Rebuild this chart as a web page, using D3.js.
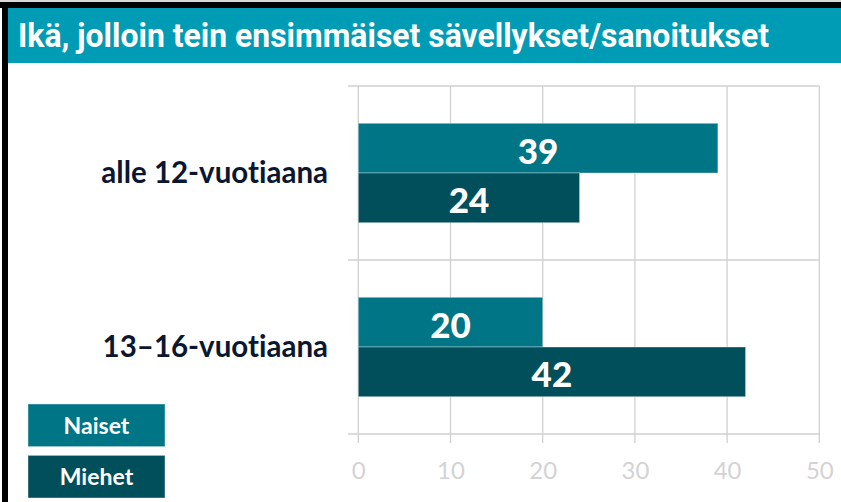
<!DOCTYPE html>
<html>
<head>
<meta charset="utf-8">
<script src="https://cdn.jsdelivr.net/npm/d3@7"></script>
<style>
  html, body { margin: 0; padding: 0; background: #fff; }
  svg { display: block; }
  text { font-variant-ligatures: none; font-feature-settings: "liga" 0; }
</style>
</head>
<body>
<script>
// ---- data ----
const title = "Ikä, jolloin tein ensimmäiset sävellykset/sanoitukset";
const categories = ["alle 12-vuotiaana", "13\u201316-vuotiaana"];
const seriesNames = ["Naiset", "Miehet"];
const naiset = [39, 20];
const miehet = [24, 42];
const xTicks = [0, 10, 20, 30, 40, 50];

const seriesValues = [naiset, miehet];
const colors = ["#007585", "#024f5c"];

const W = 841, H = 502;
const svg = d3.select("body").append("svg").attr("width", W).attr("height", H);

// frame
svg.append("rect").attr("x", 0).attr("y", 0).attr("width", W).attr("height", 2).attr("fill", "#d9d9d9");
svg.append("rect").attr("x", 0).attr("y", 2).attr("width", W).attr("height", 6).attr("fill", "#000");
svg.append("rect").attr("x", 2).attr("y", 2).attr("width", 6).attr("height", H).attr("fill", "#000");
svg.append("rect").attr("x", 8).attr("y", 8).attr("width", W - 8).attr("height", 55).attr("fill", "#009cb5");

const font = "Lato, 'Open Sans', sans-serif";

svg.append("text")
  .attr("x", 18).attr("y", 47)
  .attr("fill", "#fff")
  .attr("font-family", "Roboto, sans-serif")
  .attr("font-weight", 700)
  .attr("font-size", 34)
  .attr("textLength", 751)
  .attr("lengthAdjust", "spacingAndGlyphs")
  .text(title);

// scales
const x = d3.scaleLinear().domain([0, 50]).range([358.3, 819.3]);
const y = d3.scaleBand().domain(categories).range([86, 434]).paddingInner(0).paddingOuter(0);
const ys = d3.scaleBand().domain(seriesNames).range([0, y.bandwidth()]).paddingInner(0).paddingOuter(0.75);

const grid = "#d0d0d0";
// vertical gridlines
svg.append("g").selectAll("line").data(xTicks).join("line")
  .attr("x1", d => x(d)).attr("x2", d => x(d))
  .attr("y1", 86).attr("y2", 443)
  .attr("stroke", grid).attr("stroke-width", 1.3);
// horizontal band boundaries
const bounds = categories.map(c => y(c)).concat([y.range()[1]]);
svg.append("g").selectAll("line").data(bounds).join("line")
  .attr("x1", 348).attr("x2", x(50))
  .attr("y1", d => d).attr("y2", d => d)
  .attr("stroke", grid).attr("stroke-width", 1.3);

// x axis labels
const xAxis = d3.axisBottom(x).tickValues(xTicks).tickSize(0).tickPadding(0);
const gx = svg.append("g").attr("transform", "translate(0,479)").call(xAxis);
gx.select(".domain").remove();
gx.selectAll("text")
  .attr("dy", 0).attr("y", 0)
  .attr("fill", "#d3d3d3")
  .attr("font-family", font)
  .attr("font-size", 24);

// category labels
const yAxis = d3.axisLeft(y).tickSize(0).tickPadding(0);
const gy = svg.append("g").attr("transform", "translate(328,0)").call(yAxis);
gy.select(".domain").remove();
gy.selectAll("text")
  .attr("x", 0).attr("dy", "0.33em")
  .attr("fill", "#0b1730")
  .attr("font-family", font)
  .attr("font-weight", 700)
  .attr("font-size", 29.5);

// bars
const rows = [];
categories.forEach((c, i) => {
  seriesNames.forEach((s, j) => rows.push({ c, s, j, v: seriesValues[j][i] }));
});
const gb = svg.append("g");
gb.selectAll("rect").data(rows).join("rect")
  .attr("x", x(0))
  .attr("y", d => y(d.c) + ys(d.s))
  .attr("width", d => x(d.v) - x(0))
  .attr("height", ys.bandwidth())
  .attr("fill", d => colors[d.j])
  .attr("stroke", "rgba(255,255,255,0.35)")
  .attr("stroke-width", 1);
gb.selectAll("text").data(rows).join("text")
  .attr("x", d => (x(d.v) + x(0)) / 2)
  .attr("y", d => y(d.c) + ys(d.s) + ys.bandwidth() / 2)
  .attr("dy", "0.44em")
  .attr("text-anchor", "middle")
  .attr("fill", "#fff")
  .attr("font-family", font)
  .attr("font-weight", 900)
  .attr("font-size", 35)
  .text(d => d.v);

// legend
const legY = d3.scaleBand().domain(seriesNames).range([404, 498]).paddingInner(0.17);
const gl = svg.append("g");
gl.selectAll("rect").data(seriesNames).join("rect")
  .attr("x", 28).attr("width", 137)
  .attr("y", d => legY(d)).attr("height", legY.bandwidth())
  .attr("fill", (d, i) => colors[i])
  .attr("stroke", "rgba(255,255,255,0.4)");
gl.selectAll("text").data(seriesNames).join("text")
  .attr("x", 96.5)
  .attr("y", d => legY(d) + legY.bandwidth() / 2)
  .attr("dy", "0.37em")
  .attr("text-anchor", "middle")
  .attr("fill", "#fff")
  .attr("font-family", font)
  .attr("font-weight", 700)
  .attr("font-size", 23)
  .text(d => d);
</script>
</body>
</html>
